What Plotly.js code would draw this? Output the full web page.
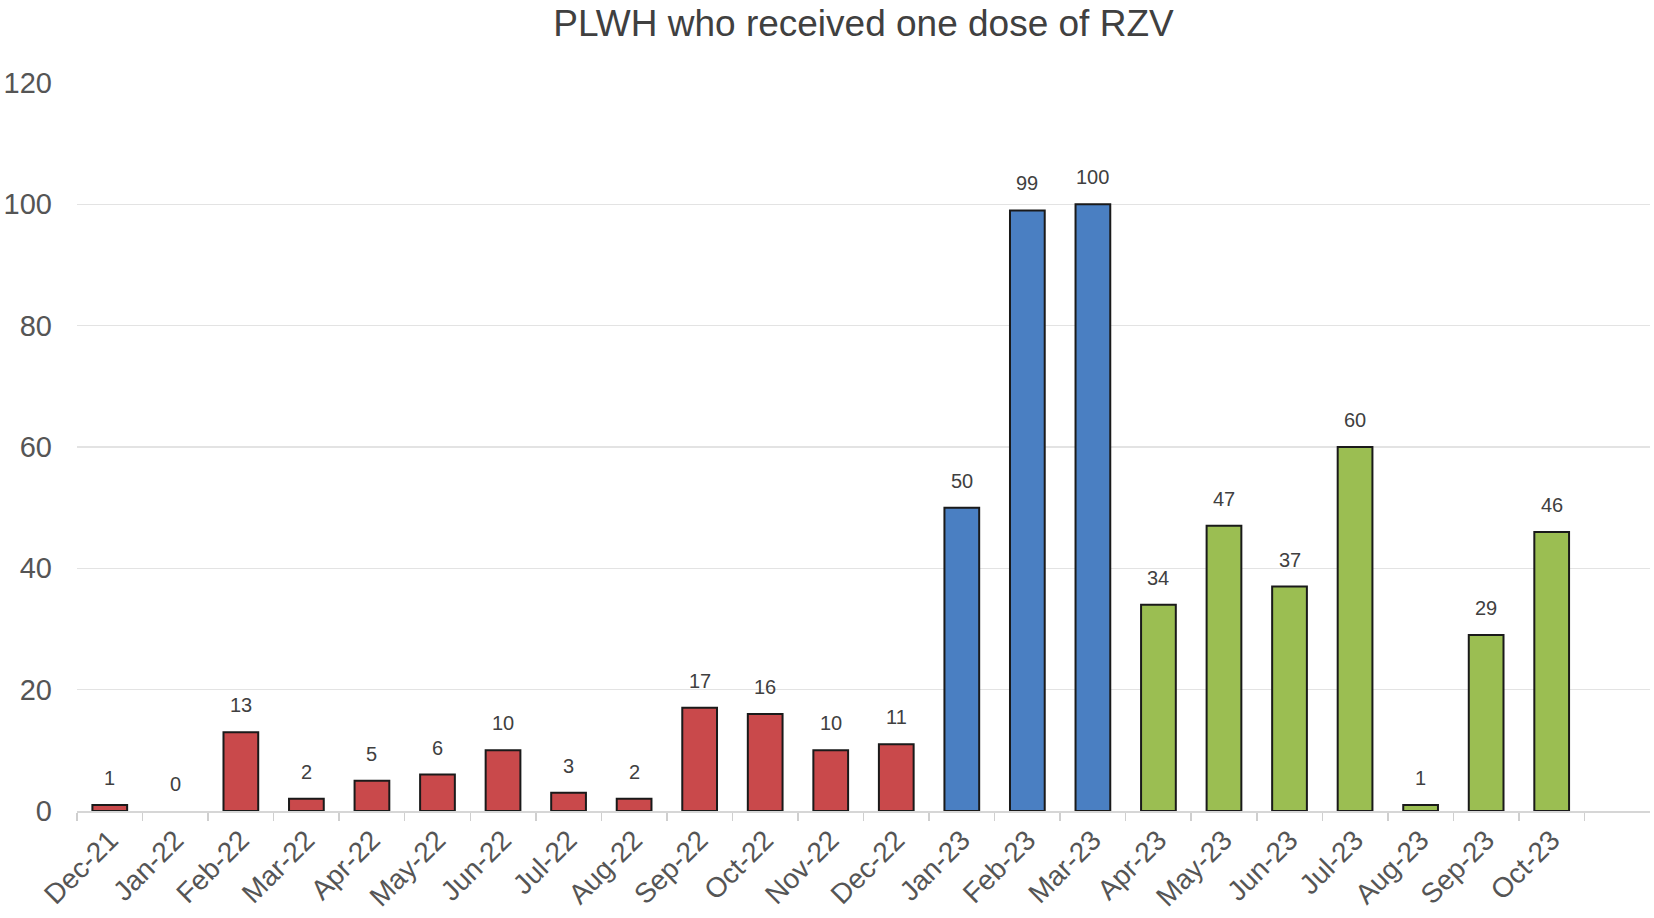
<!DOCTYPE html>
<html>
<head>
<meta charset="utf-8">
<script src="https://cdn.plot.ly/plotly-3.0.1.min.js"></script>
<style>html,body{margin:0;padding:0;background:#fff;}#chart{width:1654px;height:918px;}</style>
</head>
<body>
<div id="chart"></div>
<script>
const months = ["Dec-21","Jan-22","Feb-22","Mar-22","Apr-22","May-22","Jun-22","Jul-22","Aug-22","Sep-22","Oct-22","Nov-22","Dec-22","Jan-23","Feb-23","Mar-23","Apr-23","May-23","Jun-23","Jul-23","Aug-23","Sep-23","Oct-23"];
const doses = [1,0,13,2,5,6,10,3,2,17,16,10,11,50,99,100,34,47,37,60,1,29,46];
const phase = ["a","a","a","a","a","a","a","a","a","a","a","a","a","b","b","b","c","c","c","c","c","c","c"];
const phaseColors = {a:"#C9494B", b:"#4A7FC2", c:"#9BBE52"};
const yTicks = [0,20,40,60,80,100,120];

const trace = {
  type: "bar",
  x: months,
  y: doses,
  marker: {
    color: phase.map(p => phaseColors[p]),
    line: {color: "#1a1a1a", width: doses.map(v => v === 0 ? 0 : 2)}
  },
  hoverinfo: "x+y",
  showlegend: false
};

const annotations = months.map((m, i) => ({
  x: m, y: doses[i], xref: "x", yref: "y",
  text: String(doses[i]), showarrow: false,
  yanchor: "middle", yshift: 27,
  font: {family: "Liberation Sans, Arial, sans-serif", size: 20, color: "#404040"}
}));

const layout = {
  width: 1654, height: 918,
  margin: {l: 77, r: 4, t: 83, b: 107},
  paper_bgcolor: "#fff", plot_bgcolor: "#fff",
  bargap: 0.47,
  font: {family: "Liberation Sans, Arial, sans-serif", color: "#555"},
  title: {
    text: "PLWH who received one dose of RZV",
    font: {family: "Liberation Sans, Arial, sans-serif", size: 37, color: "#404040"},
    x: 0.5, xref: "paper", xanchor: "center",
    y: 1 - 23/918, yref: "container", yanchor: "middle"
  },
  xaxis: {
    type: "category",
    categoryorder: "array", categoryarray: months,
    range: [-0.5, 23.5],
    tickangle: -45,
    tickson: "boundaries",
    ticks: "outside", ticklen: 8, tickcolor: "#cfcfcf", tickwidth: 1.5,
    showline: true, linecolor: "#d6d6d6", linewidth: 1.5,
    showgrid: false, zeroline: false,
    tickfont: {family: "Liberation Sans, Arial, sans-serif", size: 28, color: "#555"}
  },
  yaxis: {
    range: [0, 120],
    tickmode: "array", tickvals: yTicks, ticktext: yTicks.map(String),
    showgrid: true, gridcolor: "#e3e3e3", gridwidth: 1.5,
    zeroline: false, showline: false, ticks: "",
    ticklabelstandoff: 24,
    tickfont: {family: "Liberation Sans, Arial, sans-serif", size: 29, color: "#555"}
  },
  annotations: annotations
};

Plotly.newPlot("chart", [trace], layout, {displayModeBar: false, staticPlot: true});
</script>
</body>
</html>
